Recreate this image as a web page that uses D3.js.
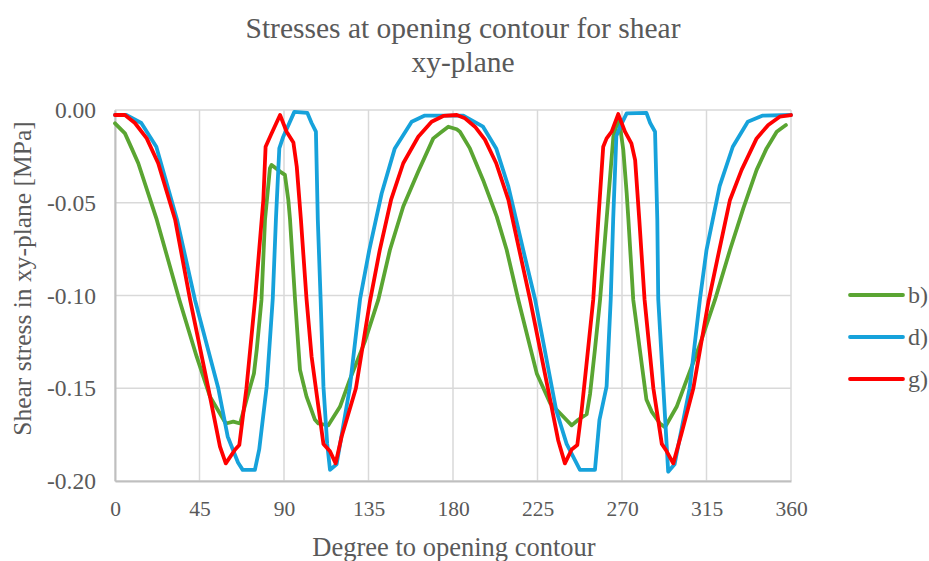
<!DOCTYPE html>
<html>
<head>
<meta charset="utf-8">
<script src="https://cdn.jsdelivr.net/npm/d3@7/dist/d3.min.js"></script>
<style>
  html, body { margin: 0; padding: 0; background: #fff; }
  svg { display: block; font-family: "Liberation Serif", "Times New Roman", serif; }
</style>
</head>
<body>
<svg id="chart" width="929" height="561"></svg>
<script>
// Shear stress along the opening contour (degrees, MPa)
const degB = [0, 5.3, 8.9, 12.4, 22.2, 34.3, 43.5, 50.6, 59, 63, 66.6, 70.1, 74, 75.5, 78, 79.9, 82.5, 83.4, 87.9, 90.5, 92.3, 93.2, 95.9, 98.5, 102, 106.5, 108.3, 113.6, 119.8, 125, 133, 140.2, 146.4, 153.5, 161.5, 169.5, 174, 177.5, 182, 183.7, 189, 196, 203.3, 208.6, 214.8, 224.6, 231.7, 237, 243.2, 246.7, 251.2, 253, 255.6, 258.3, 261.8, 265.4, 268.3, 270.7, 272.5, 273.4, 276, 283, 285.8, 290.2, 292.9, 299.1, 303.5, 310.6, 319.5, 327.5, 334.6, 341.7, 347, 352.4, 357.3];
const valB = [-0.0072, -0.0126, -0.0207, -0.0287, -0.059, -0.1024, -0.133, -0.1545, -0.169, -0.168, -0.169, -0.156, -0.142, -0.129, -0.1024, -0.059, -0.0315, -0.0296, -0.0332, -0.035, -0.0485, -0.059, -0.1024, -0.14, -0.1545, -0.167, -0.169, -0.17, -0.16, -0.1455, -0.125, -0.1024, -0.0755, -0.052, -0.0332, -0.0153, -0.0117, -0.009, -0.0104, -0.0117, -0.0207, -0.0377, -0.0575, -0.0755, -0.1024, -0.142, -0.158, -0.1635, -0.17, -0.167, -0.164, -0.153, -0.129, -0.1024, -0.059, -0.0144, -0.004, -0.0216, -0.045, -0.059, -0.1024, -0.156, -0.1626, -0.169, -0.171, -0.16, -0.148, -0.129, -0.1024, -0.0755, -0.053, -0.0323, -0.0207, -0.0117, -0.0081];

const degD = [0, 6, 14, 22, 33, 42.6, 55, 60, 65.5, 68, 74.5, 76.8, 80.8, 84, 85.7, 87.5, 89.6, 95.5, 102.4, 104.7, 107, 108, 109.5, 111, 113, 114.5, 118, 125, 130.5, 135.4, 142, 149, 158, 165, 185.5, 196, 203, 209.5, 217.4, 223.7, 235, 240.5, 247.6, 255.6, 258, 261.8, 264, 265.3, 267, 269, 272.5, 283, 285, 287.6, 288.8, 289.3, 294.6, 298, 306, 311.5, 315, 322, 329, 337, 345, 360];
const valD = [-0.0027, -0.0027, -0.007, -0.0198, -0.059, -0.1024, -0.15, -0.176, -0.19, -0.194, -0.194, -0.183, -0.149, -0.102, -0.059, -0.0207, -0.0144, -0.001, -0.0015, -0.007, -0.0117, -0.059, -0.102, -0.149, -0.18, -0.194, -0.191, -0.15, -0.102, -0.0755, -0.045, -0.0207, -0.0063, -0.003, -0.003, -0.009, -0.0207, -0.0413, -0.0755, -0.102, -0.162, -0.18, -0.194, -0.194, -0.167, -0.149, -0.102, -0.059, -0.014, -0.009, -0.0018, -0.0015, -0.007, -0.0117, -0.059, -0.102, -0.195, -0.191, -0.15, -0.102, -0.0755, -0.041, -0.0198, -0.0063, -0.003, -0.0027];

const degG = [0, 5.3, 10.6, 16.9, 23, 32, 40, 49.7, 55.9, 59, 64, 66.2, 70, 74.6, 79, 80.2, 83, 87.9, 91.4, 95, 96.8, 99, 102, 104.7, 111, 114.5, 117.5, 120.7, 128.3, 135.8, 141, 147, 153.5, 161.5, 168.6, 174.8, 182, 186.4, 191.7, 197, 203, 209.5, 215.3, 221, 231.7, 236, 239.6, 243.2, 246.2, 248.5, 251, 254.7, 257.4, 260, 261.8, 264.5, 268, 271.6, 275, 277, 279.2, 282, 286.7, 291.2, 293.8, 297.3, 301.8, 308, 316, 321.8, 327.5, 333.7, 341.7, 347.9, 354, 360];
const valG = [-0.0027, -0.0027, -0.007, -0.0153, -0.0287, -0.059, -0.1024, -0.15, -0.1815, -0.1905, -0.183, -0.1806, -0.15, -0.102, -0.0485, -0.0198, -0.0135, -0.0027, -0.0117, -0.0175, -0.0306, -0.059, -0.102, -0.133, -0.18, -0.184, -0.1905, -0.176, -0.15, -0.103, -0.0755, -0.0485, -0.0287, -0.0144, -0.0063, -0.0032, -0.0027, -0.0045, -0.009, -0.016, -0.0287, -0.0485, -0.0755, -0.102, -0.156, -0.178, -0.1905, -0.183, -0.1806, -0.162, -0.138, -0.102, -0.059, -0.0198, -0.0153, -0.0117, -0.0022, -0.0117, -0.018, -0.027, -0.059, -0.102, -0.15, -0.18, -0.184, -0.1905, -0.174, -0.15, -0.1035, -0.0755, -0.0485, -0.0323, -0.0153, -0.0081, -0.0036, -0.0027];

const seriesNames = ["b)", "d)", "g)"];
const seriesColors = ["#5aa532", "#16a2db", "#ff0000"];
const xTicks = [0, 45, 90, 135, 180, 225, 270, 315, 360];
const yTicks = [0, -0.05, -0.10, -0.15, -0.20];

const titleLines = ["Stresses at opening contour for shear", "xy-plane"];
const xTitle = "Degree to opening contour";
const yTitle = "Shear stress in xy-plane [MPa]";

const series = [
  { name: seriesNames[0], color: seriesColors[0], pts: degB.map((d, i) => [d, valB[i]]) },
  { name: seriesNames[1], color: seriesColors[1], pts: degD.map((d, i) => [d, valD[i]]) },
  { name: seriesNames[2], color: seriesColors[2], pts: degG.map((d, i) => [d, valG[i]]) }
];

const svg = d3.select("#chart");
const plot = { left: 115, right: 791, top: 110, bottom: 481 };
const textColor = "#595959";

const x = d3.scaleLinear().domain([0, 360]).range([plot.left, plot.right]);
const y = d3.scaleLinear().domain([-0.2, 0]).range([plot.bottom, plot.top]);

const locale = d3.formatLocale({ decimal: ".", thousands: ",", grouping: [3], currency: ["", ""], minus: "-" });
const fmtY = locale.format(".2f");

// Gridlines
svg.append("g")
  .selectAll("line").data(yTicks).join("line")
  .attr("x1", plot.left).attr("x2", plot.right)
  .attr("y1", d => y(d)).attr("y2", d => y(d))
  .attr("stroke", "#d9d9d9").attr("stroke-width", 1.5);
svg.append("g")
  .selectAll("line").data(xTicks).join("line")
  .attr("x1", d => x(d)).attr("x2", d => x(d))
  .attr("y1", plot.top).attr("y2", plot.bottom)
  .attr("stroke", "#d9d9d9").attr("stroke-width", 1.5);

// Axes
const xAxis = svg.append("g")
  .attr("transform", `translate(0,${plot.bottom})`)
  .call(d3.axisBottom(x).tickValues(xTicks).tickSize(0).tickPadding(20).tickFormat(d3.format("d")));
xAxis.selectAll("text").attr("font-size", 21.5);
const yAxis = svg.append("g")
  .attr("transform", `translate(${plot.left},0)`)
  .call(d3.axisLeft(y).tickValues(yTicks).tickSize(0).tickPadding(19).tickFormat(fmtY));
yAxis.selectAll("text").attr("font-size", 23.5);
[xAxis, yAxis].forEach(a => {
  a.select(".domain").attr("stroke", "#bfbfbf").attr("stroke-width", 2);
  a.selectAll("text").attr("fill", textColor)
    .attr("font-family", "Liberation Serif, Times New Roman, serif");
});

// Series lines
const line = d3.line().x(d => x(d[0])).y(d => y(d[1]));
svg.append("g").selectAll("path").data(series).join("path")
  .attr("d", d => line(d.pts))
  .attr("fill", "none")
  .attr("stroke", d => d.color)
  .attr("stroke-width", 3.8)
  .attr("stroke-linejoin", "round")
  .attr("stroke-linecap", "round");

// Title
svg.append("text")
  .attr("text-anchor", "middle").attr("fill", textColor).attr("font-size", 29.5)
  .selectAll("tspan").data(titleLines).join("tspan")
  .attr("x", 463).attr("y", (d, i) => 38 + i * 34).text(d => d);

// Axis titles
svg.append("text").attr("x", 454).attr("y", 556)
  .attr("text-anchor", "middle").attr("fill", textColor).attr("font-size", 26.5)
  .text(xTitle);
svg.append("text")
  .attr("transform", `translate(31,${(plot.top + plot.bottom) / 2 - 17}) rotate(-90)`)
  .attr("text-anchor", "middle").attr("fill", textColor).attr("font-size", 25.5)
  .text(yTitle);

// Legend
const legend = svg.append("g").selectAll("g").data(series).join("g")
  .attr("transform", (d, i) => `translate(850,${295 + i * 42})`);
legend.append("line").attr("x1", 0).attr("x2", 53).attr("y1", 0).attr("y2", 0)
  .attr("stroke", d => d.color).attr("stroke-width", 3.8).attr("stroke-linecap", "round");
legend.append("text").attr("x", 58).attr("y", 8).attr("fill", textColor).attr("font-size", 24)
  .text(d => d.name);
</script>
</body>
</html>
